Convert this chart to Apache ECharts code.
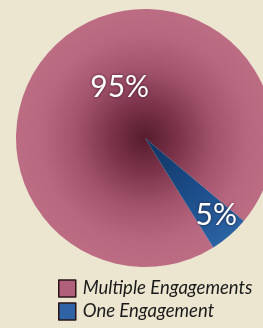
<!DOCTYPE html>
<html>
<head>
<meta charset="utf-8">
<script src="https://cdn.jsdelivr.net/npm/echarts@6/dist/echarts.min.js"></script>
<style>
  html, body { margin: 0; padding: 0; background: #ece5cf; }
  #chart { width: 263px; height: 328px; }
</style>
</head>
<body>
<div id="chart"></div>
<script>
const categories = ['Multiple Engagements', 'One Engagement']
const values = [95, 5]
const labels = ['95%', '5%']

const chart = echarts.init(document.getElementById('chart'))

const cx = 145, cy = 138, r = 129
const grad = (stops) => new echarts.graphic.RadialGradient(cx, cy, r, stops, true)

const fills = [
  grad([
    { offset: 0, color: '#561c2d' },
    { offset: 0.25, color: '#7a3249' },
    { offset: 0.55, color: '#a4556d' },
    { offset: 0.8, color: '#b7677f' },
    { offset: 1, color: '#bc6d84' }
  ]),
  grad([
    { offset: 0, color: '#0f3360' },
    { offset: 0.6, color: '#1d4f8c' },
    { offset: 1, color: '#2a62a2' }
  ])
]
const legendColors = ['#b0607a', '#2f63a6']
// nudges from the default inside spot to where the reference puts the text
const labelShift = [[19, 0], [27, 26]]

const options = {
  backgroundColor: '#ece5cf',
  legend: {
    orient: 'vertical',
    left: 58,
    top: 279,
    height: 49,
    padding: 0,
    itemWidth: 17,
    itemHeight: 17,
    itemGap: 4,
    selectedMode: false,
    textStyle: {
      fontFamily: 'Lato',
      fontStyle: 'italic',
      fontSize: 18.5,
      lineHeight: 18,
      color: '#1a1a1a',
      padding: [0, 0, 0, 2]
    },
    data: categories.map((name, i) => ({
      name,
      icon: 'rect',
      itemStyle: { color: legendColors[i], borderColor: '#2a1418', borderWidth: 1.5 }
    }))
  },
  series: [
    {
      type: 'pie',
      center: [cx, cy],
      radius: [0, r],
      startAngle: -58,
      clockwise: true,
      silent: true,
      data: categories.map((name, i) => ({
        name,
        value: values[i],
        itemStyle: { color: fills[i] }
      })),
      label: {
        show: true,
        position: 'inside',
        formatter: (p) => labels[p.dataIndex],
        fontFamily: 'Lato',
        fontSize: 30,
        color: '#ffffff',
        textShadowColor: 'rgba(30,0,10,0.7)',
        textShadowBlur: 3
      },
      labelLayout: (p) => ({ dx: labelShift[p.dataIndex][0], dy: labelShift[p.dataIndex][1] }),
      labelLine: { show: false }
    }
  ]
}

chart.setOption(options)
window.addEventListener('resize', () => chart.resize())
</script>
</body>
</html>
